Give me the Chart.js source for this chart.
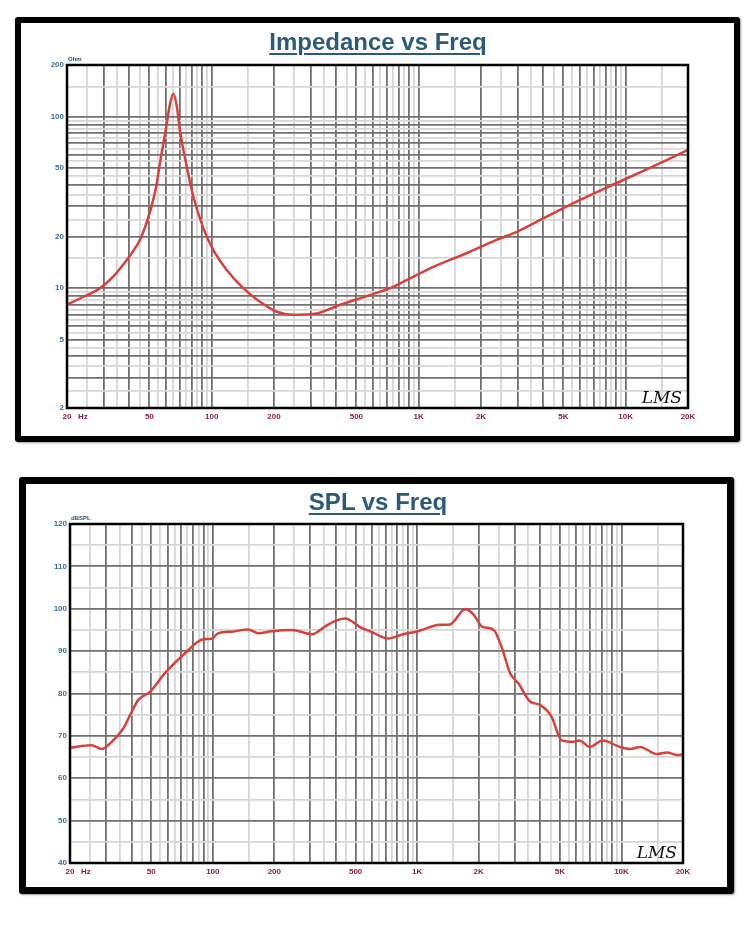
<!DOCTYPE html>
<html>
<head>
<meta charset="utf-8">
<script src="https://cdn.jsdelivr.net/npm/chart.js@4.4.1/dist/chart.umd.min.js"></script>
<style>
  body { margin: 0; width: 750px; height: 934px; background: #fff; position: relative; overflow: hidden; }
  .box { position: absolute; box-sizing: border-box; border: 6px solid #000; border-radius: 3px; box-shadow: 1px 1px 2px #999; }
  canvas { position: absolute; left: 0; }
  .title {
    position: absolute; left: 3px; width: 750px; text-align: center;
    font: bold 24px "Liberation Sans", Arial, sans-serif; line-height: 24px;
    color: #2c5b7a; text-decoration: underline; text-decoration-thickness: 2px; text-underline-offset: 3px;
  }
</style>
</head>
<body>
<div class="box" style="left:15px; top:17px; width:725px; height:425px;"></div>
<div class="box" style="left:19px; top:477px; width:715px; height:417px; border-width:7px;"></div>
<canvas id="impChart" width="750" height="450" style="top:0"></canvas>
<canvas id="splChart" width="750" height="484" style="top:450px"></canvas>
<div class="title" style="top:30px">Impedance vs Freq</div>
<div class="title" style="top:490px">SPL vs Freq</div>
<script>
  // impedance curve (Hz, ohm)
  const impFreq = [20, 23.1, 28.9, 33.5, 38.9, 41.1, 45.0, 48.6, 52.2, 54.3, 56.2, 58.1, 60, 63, 65.3, 67.9, 70.2, 75.8, 81.6, 91.2, 101.8, 118, 142, 171, 206, 248, 316, 417, 580, 726, 908, 1177, 1768, 2376, 2976, 4154, 6020, 9740, 15200, 20000];
  const impOhm = [8.0, 8.7, 10.0, 11.7, 14.6, 16.0, 19.1, 24.3, 32.7, 40.9, 53.4, 67.4, 83.6, 119.6, 136, 114, 83.6, 51, 34.1, 22.3, 16.7, 12.8, 10.0, 8.34, 7.28, 7.0, 7.1, 8.0, 9.1, 10.0, 11.4, 13.3, 16.3, 19.1, 21.3, 26.1, 32.7, 42.7, 54.6, 63.9];

  // SPL curve (Hz, dB)
  const splFreq = [20, 25.5, 28.6, 32, 36.5, 40.1, 43.2, 49.3, 58.3, 73.1, 89.8, 98.6, 106, 124, 149, 167, 194, 244, 305, 354, 395, 444, 536, 588, 722, 854, 1010, 1292, 1448, 1718, 1886, 2076, 2370, 2602, 2850, 3130, 3570, 3990, 4550, 5080, 5800, 6240, 6980, 8100, 9820, 11000, 12340, 14900, 16700, 18700, 20000];
  const splDb = [67.2, 67.8, 66.9, 68.6, 71.8, 75.7, 78.5, 80.4, 84.8, 89.5, 92.8, 92.9, 94.2, 94.6, 95.1, 94.2, 94.7, 95.0, 94.0, 95.8, 97.1, 97.7, 95.4, 94.7, 93.0, 94.0, 94.7, 96.2, 96.3, 99.9, 98.7, 95.8, 95.0, 90.7, 84.8, 82.4, 78.1, 77.3, 74.5, 69.0, 68.6, 68.9, 67.4, 68.9, 67.4, 66.9, 67.4, 65.7, 66.1, 65.5, 65.6];

  // tick labels
  const freqTicks = [20, 50, 100, 200, 500, 1000, 2000, 5000, 10000, 20000];
  const freqTickText = ['20', '50', '100', '200', '500', '1K', '2K', '5K', '10K', '20K'];
  const ohmTicks = [2, 5, 10, 20, 50, 100, 200];
  const splTicks = [40, 50, 60, 70, 80, 90, 100, 110, 120];

  const majorGrid = '#707070';
  const minorGrid = '#d6d6d6';
  const red = '#d8403c';
  const tickFont = { family: 'Liberation Sans', size: 8, weight: 'bold' };

  // gridlines at 1..9 x 10^n (dark) and halfway steps (light)
  function logGrid(min, max) {
    const out = [];
    for (let e = 1; e <= 100000; e *= 10) {
      for (let k = 1; k < 10; k++) {
        out.push(k * e);
        out.push((k + 0.5) * e);
      }
    }
    return out.filter(v => v >= min && v <= max).sort((a, b) => a - b);
  }
  function isLogMajor(v) {
    const m = v / Math.pow(10, Math.floor(Math.log10(v) + 1e-9));
    return Math.abs(m - Math.round(m)) < 1e-6;
  }

  const freqAxis = {
    type: 'logarithmic',
    min: 20,
    max: 20000,
    border: { display: false },
    afterBuildTicks: (s) => { s.ticks = logGrid(20, 20000).map(v => ({ value: v })); },
    afterFit: (s) => { s.height = 20; },
    grid: {
      drawTicks: false,
      color: (c) => (c.tick && !isLogMajor(c.tick.value)) ? minorGrid : majorGrid,
      lineWidth: 1.8
    },
    ticks: {
      autoSkip: false,
      maxRotation: 0,
      padding: 4,
      color: '#8a1f3f',
      font: tickFont,
      callback: (v) => {
        const i = freqTicks.indexOf(v);
        return i >= 0 ? freqTickText[i] : '';
      }
    }
  };

  const extras = {
    id: 'extras',
    afterDraw(chart, args, opts) {
      const ctx = chart.ctx;
      const a = chart.chartArea;
      ctx.save();
      ctx.strokeStyle = '#000';
      ctx.lineWidth = 2.5;
      ctx.strokeRect(a.left, a.top, a.right - a.left, a.bottom - a.top);

      ctx.fillStyle = '#2a4a6e';
      ctx.font = 'bold 6px "Liberation Sans"';
      ctx.textAlign = 'left';
      ctx.textBaseline = 'alphabetic';
      ctx.fillText(opts.unit, a.left + 1, a.top - 4);

      ctx.fillStyle = '#8a1f3f';
      ctx.font = 'bold 8px "Liberation Sans"';
      ctx.textBaseline = 'middle';
      ctx.fillText('Hz', a.left + 11, a.bottom + 8.5);

      ctx.fillStyle = '#111';
      ctx.font = 'italic 17px "DejaVu Serif"';
      ctx.textAlign = 'right';
      ctx.textBaseline = 'alphabetic';
      ctx.fillText('LMS', a.right - 6, a.bottom - 5);
      ctx.restore();
    }
  };

  function curve(xs, ys) {
    return {
      data: xs.map((x, i) => ({ x: x, y: ys[i] })),
      borderColor: red,
      borderWidth: 2.5,
      pointRadius: 0,
      cubicInterpolationMode: 'monotone'
    };
  }

  const impConfig = {
    type: 'line',
    data: { datasets: [curve(impFreq, impOhm)] },
    options: {
      responsive: false,
      animation: false,
      layout: { padding: { left: 37, top: 65, right: 62, bottom: 22 } },
      plugins: { legend: { display: false }, tooltip: { enabled: false }, extras: { unit: 'Ohm' } },
      scales: {
        x: freqAxis,
        y: {
          type: 'logarithmic',
          min: 2,
          max: 200,
          border: { display: false },
          afterBuildTicks: (s) => { s.ticks = logGrid(2, 200).map(v => ({ value: v })); },
          afterFit: (s) => { s.width = 30; },
          grid: {
            drawTicks: false,
            color: (c) => (c.tick && !isLogMajor(c.tick.value)) ? minorGrid : majorGrid,
            lineWidth: 1.8
          },
          ticks: {
            autoSkip: false,
            padding: 3,
            color: '#3d6d9c',
            font: tickFont,
            callback: (v) => ohmTicks.includes(v) ? String(v) : ''
          }
        }
      }
    },
    plugins: [extras]
  };

  const splConfig = {
    type: 'line',
    data: { datasets: [curve(splFreq, splDb)] },
    options: {
      responsive: false,
      animation: false,
      layout: { padding: { left: 40, top: 74, right: 67, bottom: 51 } },
      plugins: { legend: { display: false }, tooltip: { enabled: false }, extras: { unit: 'dBSPL' } },
      scales: {
        x: freqAxis,
        y: {
          type: 'linear',
          min: 40,
          max: 120,
          border: { display: false },
          afterFit: (s) => { s.width = 30; },
          grid: {
            drawTicks: false,
            color: (c) => (c.tick && c.tick.value % 10 !== 0) ? minorGrid : majorGrid,
            lineWidth: 1.8
          },
          ticks: {
            stepSize: 5,
            autoSkip: false,
            padding: 3,
            color: '#3d6d9c',
            font: tickFont,
            callback: (v) => splTicks.includes(v) ? String(v) : ''
          }
        }
      }
    },
    plugins: [extras]
  };

  new Chart(document.getElementById('impChart'), impConfig);
  new Chart(document.getElementById('splChart'), splConfig);
</script>
</body>
</html>
